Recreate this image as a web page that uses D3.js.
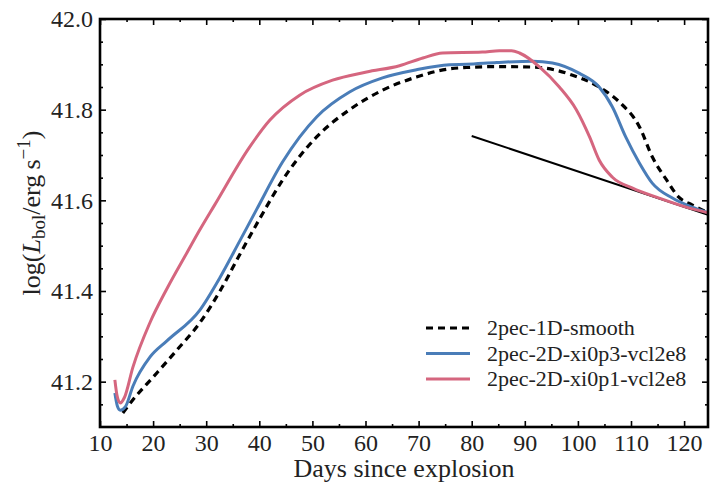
<!DOCTYPE html>
<html><head><meta charset="utf-8">
<script src="https://cdn.jsdelivr.net/npm/d3@7"></script>
<style>body{margin:0;background:#fff}svg{display:block}</style>
</head><body><svg id="c" width="710" height="490"></svg>
<script>
const xTicks=[10,20,30,40,50,60,70,80,90,100,110,120];
const yTicks=[41.2,41.4,41.6,41.8,42.0];
const seriesNames=["2pec-1D-smooth","2pec-2D-xi0p3-vcl2e8","2pec-2D-xi0p1-vcl2e8"];
const day1D=[14.3,16.2,20,24.5,28.8,32.6,36.3,40.1,44.4,50.8,57,63.2,69.6,75.8,79,84.7,91.5,95.5,99,104,107.8,111.6,114,116.7,119,121.5,124.7];
const lum1D=[41.131,41.16,41.21,41.27,41.33,41.40,41.48,41.56,41.645,41.74,41.80,41.843,41.872,41.89,41.893,41.895,41.894,41.888,41.876,41.85,41.817,41.762,41.696,41.645,41.607,41.59,41.572];
const dayXi3=[12.8,13.3,13.8,14.8,16.2,19.4,22.6,28.8,32.6,36.3,39.5,44.4,50.8,57,63.2,69.6,75.8,79,84.7,91.5,95.2,100.3,104,106.5,109,111.6,114,117.8,121.5,124.7];
const lumXi3=[41.175,41.145,41.137,41.145,41.19,41.254,41.29,41.358,41.43,41.51,41.58,41.685,41.784,41.839,41.87,41.888,41.899,41.900,41.904,41.907,41.903,41.88,41.85,41.806,41.74,41.682,41.638,41.605,41.585,41.572];
const dayXi1=[12.8,13.2,13.8,14.6,16.2,19.4,22.6,26.4,28.8,31.6,38.2,42,47.6,53.8,60.2,66.4,70.8,74.5,82,85.2,87.5,89,92.8,96.5,99.7,102.2,104,106.5,110.3,115.3,120.4,124.7];
const lumXi1=[41.204,41.17,41.153,41.165,41.232,41.33,41.405,41.485,41.535,41.59,41.718,41.777,41.832,41.865,41.883,41.897,41.914,41.925,41.927,41.93,41.93,41.925,41.894,41.85,41.80,41.74,41.689,41.651,41.627,41.605,41.585,41.572];
const dayFit=[80,124.5];
const lumFit=[41.742,41.568];

const svg=d3.select("#c");
const L=100,R=708,T=19,B=427;
const x=d3.scaleLinear().domain([10,124.5]).range([L,R]);
const y=d3.scaleLinear().domain([41.1,42.0]).range([B,T]);
const font="'Liberation Serif','DejaVu Serif',serif";

const g=svg.append("g");
const line=d3.line().x(d=>x(d[0])).y(d=>y(d[1])).curve(d3.curveMonotoneX);
svg.append("clipPath").attr("id","cp").append("rect").attr("x",L).attr("y",T).attr("width",R-L).attr("height",B-T);
const lines=g.append("g").attr("clip-path","url(#cp)");
lines.append("path").datum(d3.zip(dayFit,lumFit)).attr("d",d3.line().x(d=>x(d[0])).y(d=>y(d[1])))
 .attr("fill","none").attr("stroke","#000").attr("stroke-width",2);
lines.append("path").datum(d3.zip(day1D,lum1D)).attr("d",line).attr("fill","none").attr("stroke","#000").attr("stroke-width",3.2).attr("stroke-dasharray","7,5");
lines.append("path").datum(d3.zip(dayXi3,lumXi3)).attr("d",line).attr("fill","none").attr("stroke","#4a7db8").attr("stroke-width",3);
lines.append("path").datum(d3.zip(dayXi1,lumXi1)).attr("d",line).attr("fill","none").attr("stroke","#d5667f").attr("stroke-width",3);

const xMinor=d3.range(15,125,10);
const yMinor=d3.range(41.15,42.0,0.05).filter(v=>Math.abs(Math.round(v*5)-v*5)>0.01);
function addAxis(axis,tr){return svg.append("g").attr("transform",tr).call(axis).call(s=>s.select(".domain").remove());}
addAxis(d3.axisBottom(x).tickValues(xTicks).tickSize(-6).tickPadding(7).tickFormat(d3.format("d")),`translate(0,${B})`);
addAxis(d3.axisBottom(x).tickValues(xMinor).tickSize(-3).tickFormat(""),`translate(0,${B})`);
addAxis(d3.axisTop(x).tickValues(xTicks).tickSize(-6).tickFormat(""),`translate(0,${T})`);
addAxis(d3.axisTop(x).tickValues(xMinor).tickSize(-3).tickFormat(""),`translate(0,${T})`);
addAxis(d3.axisLeft(y).tickValues(yTicks).tickSize(-6).tickPadding(7).tickFormat(d3.format(".1f")),`translate(${L},0)`);
addAxis(d3.axisLeft(y).tickValues(yMinor).tickSize(-3).tickFormat(""),`translate(${L},0)`);
addAxis(d3.axisRight(y).tickValues(yTicks).tickSize(-6).tickFormat(""),`translate(${R},0)`);
addAxis(d3.axisRight(y).tickValues(yMinor).tickSize(-3).tickFormat(""),`translate(${R},0)`);
svg.selectAll(".tick line").attr("stroke","#000").attr("stroke-width",1.6);
svg.selectAll(".tick text").attr("font-family",font).attr("font-size",24).attr("fill","#222");
svg.append("rect").attr("x",L).attr("y",T).attr("width",R-L).attr("height",B-T).attr("fill","none").attr("stroke","#000").attr("stroke-width",2.6);

svg.append("text").attr("x",(L+R)/2).attr("y",477).attr("text-anchor","middle").attr("font-family",font).attr("font-size",26).attr("fill","#222").text("Days since explosion");
const yt=svg.append("text").attr("transform",`translate(40,213) rotate(-90)`).attr("text-anchor","middle").attr("font-family",font).attr("font-size",26).attr("fill","#222");
yt.append("tspan").text("log(");
yt.append("tspan").attr("font-style","italic").text("L");
yt.append("tspan").attr("font-size",19).attr("dy",5).text("bol");
yt.append("tspan").attr("dy",-5).text("/erg\u2009s");
yt.append("tspan").attr("font-size",19).attr("dy",-10).text("\u22121");
yt.append("tspan").attr("dy",10).text(")");

const leg=svg.append("g");
const styles=[{c:"#000",d:"7,5"},{c:"#4a7db8",d:null},{c:"#d5667f",d:null}];
seriesNames.forEach((n,i)=>{
 const yy=328+i*25.5;
 leg.append("line").attr("x1",426).attr("x2",470).attr("y1",yy).attr("y2",yy).attr("stroke",styles[i].c).attr("stroke-width",3.2).attr("stroke-dasharray",styles[i].d);
 leg.append("text").attr("x",487).attr("y",yy+7).attr("font-family",font).attr("font-size",22).attr("fill","#222").text(n);
});
</script></body></html>
